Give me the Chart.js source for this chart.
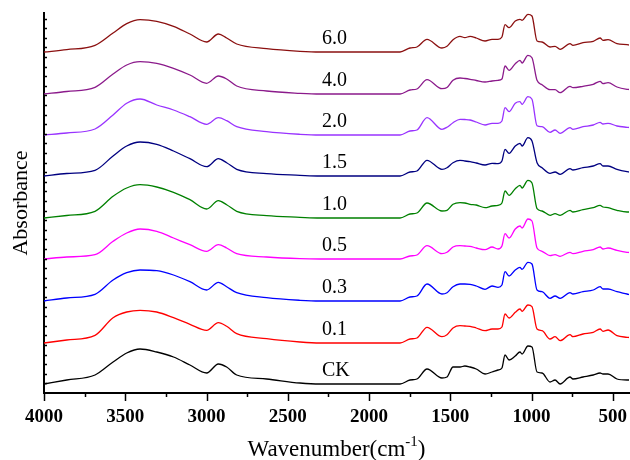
<!DOCTYPE html>
<html>
<head>
<meta charset="utf-8">
<script src="https://cdn.jsdelivr.net/npm/chart.js@4"></script>
<style>
    html, body { margin: 0; padding: 0; background: #fff; }
    #wrap { width: 630px; height: 460px; }
</style>
</head>
<body>
<div id="wrap"><canvas id="ftirChart" width="630" height="460"></canvas></div>
<script>
/* ============================
   Datos
============================ */
const WAVENUMBERS = [4000, 3860, 3686, 3575, 3491, 3409, 3306, 3203, 3102, 2999, 2927, 2876, 2814, 2630, 2425, 2302,
    1809, 1748, 1705, 1643, 1551, 1520, 1483, 1440, 1410, 1378, 1340, 1286, 1243, 1206, 1182, 1163, 1138, 1100,
    1071, 1058, 1022, 997, 966, 935, 886, 855, 824, 763, 745, 683, 620, 578, 560, 529, 474, 412, 400]

const SERIES_LABELS = ['CK', '0.1', '0.3', '0.5', '1.0', '1.5', '2.0', '4.0', '6.0']
const SERIES_COLORS = ['#000000', '#ff0000', '#0000ff', '#ff00ff', '#008000', '#000080', '#9933ff', '#8b1a8b', '#8b1010']
// desplazamiento vertical de cada espectro
const OFFSETS = [9, 50, 92, 134, 175, 217, 258, 299, 341]

const ABS_CK = [0, 4, 9, 22, 31, 35, 32, 27, 19, 11, 20, 17, 9, 5, 1, 0, 0, 4, 5, 15, 6, 7, 17, 17, 18, 17, 15, 10, 12, 14,
    16, 29, 24, 28, 32, 30, 38, 37, 12, 11, 2, 4, 0, 7, 5, 7, 9, 11, 10, 10, 5, 4, 4]
const ABS_01 = [0, 3, 7.7, 25.3, 31, 32.7, 31, 25.3, 18.7, 12.7, 20.3, 16.7, 9.3, 4.3, 1, 0, 0, 4, 5, 15.7, 6.3, 8.3, 15,
    17.3, 17, 16.7, 15, 12.3, 14, 14, 16, 29, 25, 30.7, 34, 31.7, 38, 36.3, 14, 12.3, 4, 6.3, 2.3, 8.3, 6.3, 9, 10.7, 14,
    11.7, 13, 7.3, 5.7, 5.5]
const ABS_03 = [0, 3, 6.7, 21, 28.3, 31, 30.3, 26, 19.3, 11, 18.7, 14.3, 8.3, 3.3, 0.7, 0, 0, 4, 5, 17, 7, 8.3, 14.3, 17,
    17, 16.7, 15, 11.7, 15, 13.7, 16, 29.3, 25, 31, 33.7, 31.7, 38.7, 37, 11, 9.3, 2.7, 5, 2.7, 8.3, 7, 9.3, 11, 14.3, 12,
    12, 9.3, 7, 6.5]
const ABS_05 = [0, 2, 4.3, 17.7, 26, 30, 27.7, 21, 14.3, 7.7, 14.3, 11, 5.3, 2, 0.3, 0, 0, 3, 4, 13.3, 5.3, 6.7, 12, 13.3,
    13, 12.7, 11, 9.3, 12, 10, 13, 25.3, 21, 30, 33, 31, 40, 38, 11, 7.7, 3.3, 4.3, 2.7, 6.7, 5.3, 7.7, 9.3, 12, 10, 11,
    8.7, 6.7, 6.5]
const ABS_10 = [0, 2.5, 6.7, 21.7, 30, 33.3, 31, 25.7, 18.3, 9, 17.3, 13.3, 6.7, 2.3, 0.7, 0, 0, 4, 5, 15, 7, 7.7, 13.7,
    15.3, 15, 13.7, 13, 10.3, 12, 12.7, 15, 27, 22.7, 29.3, 32.7, 30, 37.7, 35, 9.3, 7, 2.7, 4.3, 2.7, 7.7, 6, 8.3, 10.3,
    12.7, 11, 10.3, 7.7, 6, 6]
const ABS_15 = [0, 2.5, 5.7, 20, 30, 34, 31.7, 25, 17.3, 9.3, 17.3, 13.3, 6.7, 2.3, 0.7, 0, 0, 4, 5, 15.7, 6.7, 8.3, 13.3,
    15.7, 15, 14.3, 13, 11, 12.7, 12.3, 15, 26.7, 22.7, 30, 32.7, 30, 38.3, 35, 13.3, 8.3, 2.7, 4, 1.7, 7.3, 6, 8.3, 10,
    12.3, 10, 10, 6.7, 4.3, 4]
const ABS_20 = [0, 2, 6, 20, 31.7, 36, 30, 25, 18.3, 10.7, 17.3, 14.3, 8.3, 3.3, 0.7, 0, 0, 4, 5, 17.3, 5.7, 7.7, 12.3,
    15.7, 15.5, 15, 13, 10, 11.7, 11.7, 14, 27.3, 23.3, 31.7, 33.3, 30.7, 38.3, 35.7, 9.3, 8.3, 2.7, 5, 1.7, 7.3, 5.7, 8.3,
    10, 12.7, 11, 11.7, 9, 7.7, 7.5]
const ABS_40 = [0, 2.5, 6.7, 20, 29, 32.3, 30.7, 25.7, 19, 10.7, 18, 15, 8, 3, 0.7, 0, 0, 4, 5, 14.3, 5.3, 6.5, 13.7, 16,
    15.5, 14.7, 13.5, 12, 13, 13.7, 15, 28, 23.7, 30.3, 33.7, 31, 38.7, 36.3, 13.7, 9.3, 4.3, 4.3, 1.3, 7.7, 6.3, 7.7, 9.7,
    12.7, 10.3, 11.3, 7, 4.7, 4.5]
const ABS_60 = [0, 2.3, 6.7, 19, 28.3, 32.3, 30.7, 25.7, 18, 10, 18, 14, 8, 3.3, 0.7, 0, 0, 4, 5, 12.7, 4, 5.7, 12.3,
    15.7, 14.3, 15.7, 14, 11, 12.7, 12.7, 15, 27.3, 24.3, 31, 32.7, 31.7, 37.7, 36, 11, 10, 5, 5.7, 2.7, 8.3, 6.7, 9.3,
    10.7, 14, 11.7, 12.3, 8.3, 7.3, 7]

const SPECTRA = [ABS_CK, ABS_01, ABS_03, ABS_05, ABS_10, ABS_15, ABS_20, ABS_40, ABS_60]

const X_TICKS = [4000, 3500, 3000, 2500, 2000, 1500, 1000, 500]
const X_MINOR_TICKS = [3750, 3250, 2750, 2250, 1750, 1250, 750]
const Y_TICK_STEP = 9.6

const SERIF = '"Liberation Serif", "Times New Roman", serif'

// ============================
// Plugin: ticks, etiquetas y títulos
// ============================
const decorPlugin = {
    id: 'decor',
    afterDraw(chart) {
        const { ctx, chartArea, scales } = chart
        const xs = scales.x
        const ys = scales.y
        ctx.save()
        ctx.strokeStyle = '#000'
        ctx.fillStyle = '#000'
        ctx.lineWidth = 1.5

        // ticks del eje X (hacia abajo) + etiquetas
        const drawXTick = (v, len) => {
            const px = Math.round(xs.getPixelForValue(v)) + 0.5
            ctx.beginPath()
            ctx.moveTo(px, chartArea.bottom)
            ctx.lineTo(px, chartArea.bottom + len)
            ctx.stroke()
        }
        X_MINOR_TICKS.forEach(v => drawXTick(v, 4))
        ctx.font = `bold 19px ${SERIF}`
        ctx.textAlign = 'center'
        ctx.textBaseline = 'middle'
        X_TICKS.forEach(v => {
            drawXTick(v, 8)
            ctx.fillText(String(v), xs.getPixelForValue(v), chartArea.bottom + 24)
        })

        // ticks del eje Y (hacia adentro)
        for (let v = Y_TICK_STEP; v < ys.max; v += Y_TICK_STEP) {
            const py = Math.round(ys.getPixelForValue(v)) + 0.5
            ctx.beginPath()
            ctx.moveTo(chartArea.left, py)
            ctx.lineTo(chartArea.left + 3, py)
            ctx.stroke()
        }

        // etiquetas de cada espectro
        ctx.font = `20px ${SERIF}`
        ctx.textAlign = 'left'
        ctx.textBaseline = 'middle'
        SERIES_LABELS.forEach((label, i) => {
            ctx.fillText(label, xs.getPixelForValue(2290), ys.getPixelForValue(OFFSETS[i] + 13))
        })

        // título eje X con superíndice
        const mainFont = `23px ${SERIF}`
        const supFont = `15px ${SERIF}`
        ctx.textBaseline = 'alphabetic'
        ctx.font = mainFont
        const w1 = ctx.measureText('Wavenumber(cm').width
        const w3 = ctx.measureText(')').width
        ctx.font = supFont
        const w2 = ctx.measureText('-1').width
        const cx = (chartArea.left + chartArea.right) / 2
        let tx = cx - (w1 + w2 + w3) / 2
        const ty = 456
        ctx.font = mainFont
        ctx.fillText('Wavenumber(cm', tx, ty)
        tx += w1
        ctx.font = supFont
        ctx.fillText('-1', tx, ty - 10)
        tx += w2
        ctx.font = mainFont
        ctx.fillText(')', tx, ty)

        // título eje Y
        ctx.translate(21, (chartArea.top + chartArea.bottom) / 2)
        ctx.rotate(-Math.PI / 2)
        ctx.textAlign = 'center'
        ctx.textBaseline = 'middle'
        ctx.font = `22px ${SERIF}`
        ctx.fillText('Absorbance', 0, 0)
        ctx.restore()
    }
}

const datasets = SPECTRA.map((abs, i) => ({
    label: SERIES_LABELS[i],
    data: WAVENUMBERS.map((w, j) => ({ x: w, y: OFFSETS[i] + abs[j] })),
    borderColor: SERIES_COLORS[i],
    borderWidth: 1.3,
    pointRadius: 0,
    fill: false,
    cubicInterpolationMode: 'monotone'
}))

new Chart(document.getElementById('ftirChart').getContext('2d'), {
    type: 'line',
    data: { datasets },
    options: {
        responsive: false,
        animation: false,
        layout: { padding: { left: 0, right: 1, top: 13, bottom: 0 } },
        plugins: { legend: { display: false }, tooltip: { enabled: false } },
        scales: {
            x: {
                type: 'linear',
                reverse: true,
                min: 400,
                max: 4000,
                grid: { display: false },
                border: { display: true, color: '#000', width: 2 },
                ticks: { display: false },
                afterFit: scale => { scale.height = 67 }
            },
            y: {
                type: 'linear',
                min: 0,
                max: 380,
                grid: { display: false },
                border: { display: true, color: '#000', width: 2 },
                ticks: { display: false },
                afterFit: scale => { scale.width = 44 }
            }
        }
    },
    plugins: [decorPlugin]
})
</script>
</body>
</html>
